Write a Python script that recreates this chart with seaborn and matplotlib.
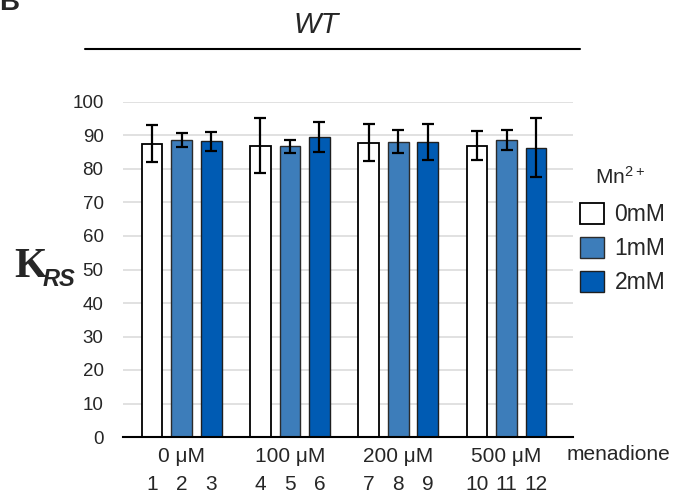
import numpy as np
import pandas as pd
import matplotlib.pyplot as plt
import seaborn as sns
from matplotlib.lines import Line2D

# values
doses = ['0 μM', '100 μM', '200 μM', '500 μM']
mn_levels = ['0mM', '1mM', '2mM']
krs_0mM = [87.5, 87.0, 87.9, 87.0]
krs_1mM = [88.6, 86.8, 88.1, 88.6]
krs_2mM = [88.3, 89.5, 88.0, 86.4]
err_0mM = [5.5, 8.2, 5.4, 4.3]
err_1mM = [2.0, 2.0, 3.4, 3.0]
err_2mM = [2.8, 4.5, 5.4, 8.7]
lanes = [str(i) for i in range(1, 13)]
yticks = list(range(0, 101, 10))

colors = ['#ffffff', '#3d7dba', '#005bb3']
edges = ['black', '#2b2b2b', '#1f1f1f']

sns.set_style('white')
plt.rcParams['font.family'] = ['Liberation Sans', 'DejaVu Sans']

df = pd.DataFrame({
    'dose': doses * 3,
    'mn': np.repeat(mn_levels, len(doses)),
    'krs': krs_0mM + krs_1mM + krs_2mM,
})
errs = [err_0mM, err_1mM, err_2mM]

fig = plt.figure(figsize=(6.75, 4.96), dpi=100)
ax = fig.add_axes([123 / 675, 59 / 496, 450 / 675, 335 / 496])

sns.barplot(data=df, x='dose', y='krs', hue='mn', order=doses, hue_order=mn_levels,
            palette=colors, saturation=1, width=0.82, gap=0.3, errorbar=None,
            legend=False, ax=ax)
bars = list(ax.containers)

for i, cont in enumerate(bars):
    xs, ys = [], []
    for p in cont:
        p.set_edgecolor(edges[i])
        p.set_linewidth(1.3 if i == 0 else 1.0)
        xs.append(p.get_x() + p.get_width() / 2)
        ys.append(p.get_height())
    ax.errorbar(xs, ys, yerr=errs[i], fmt='none', ecolor='black',
                elinewidth=1.6, capsize=4.4, capthick=1.6, zorder=5)

# lane numbers under each bar
for i, cont in enumerate(bars):
    for j, p in enumerate(cont):
        ax.text(p.get_x() + p.get_width() / 2, -0.142, lanes[j * 3 + i],
                transform=ax.get_xaxis_transform(), ha='center', va='center',
                fontsize=15)

ax.set_xlim(-0.541, 3.614)
ax.set_ylim(0, 100)
ax.set_yticks(yticks)
ax.yaxis.grid(True, color='#d9d9d9', lw=1.1)
ax.set_axisbelow(True)
for s in ['left', 'top', 'right']:
    ax.spines[s].set_visible(False)
ax.spines['bottom'].set_color('black')
ax.spines['bottom'].set_linewidth(1.5)
ax.tick_params(axis='x', length=0, pad=7, labelsize=15)
ax.tick_params(axis='y', length=5, color='#d9d9d9', width=1.1, pad=9, labelsize=13.5)
ax.set_xlabel('')
ax.set_ylabel('')

# legend
handles = [cont[0] for cont in bars]
fig.legend(handles, mn_levels, loc='upper left', bbox_to_anchor=(580 / 675, 1 - 203 / 496),
           frameon=False, fontsize=16.5, handlelength=1.05, handleheight=1.05,
           handletextpad=0.45, labelspacing=0.45, borderaxespad=0, borderpad=0)
fig.text(595 / 675, 1 - 177 / 496, r'$\mathregular{Mn^{2+}}$', fontsize=15,
         va='center', ha='left')

fig.text(567 / 675, 1 - 454 / 496, 'menadione', fontsize=15, va='center', ha='left')

# y label K_RS
fig.text(14 / 675, 1 - 277 / 496, 'K', family='Liberation Serif', weight='bold',
         fontsize=30, va='baseline', ha='left')
fig.text(43 / 675, 1 - 286 / 496, 'RS', weight='bold', style='italic',
         fontsize=17, va='baseline', ha='left')

# title and line
fig.text(316 / 675, 1 - 25 / 496, 'WT', style='italic', fontsize=21, ha='center', va='center')
fig.add_artist(Line2D([85 / 675, 580 / 675], [1 - 49 / 496, 1 - 49 / 496],
                      transform=fig.transFigure, color='black', lw=1.5))
fig.text(-0.002, 1 - 10 / 496, 'B', weight='bold', fontsize=20, va='baseline', ha='left')

fig.savefig('out.png', dpi=100)
